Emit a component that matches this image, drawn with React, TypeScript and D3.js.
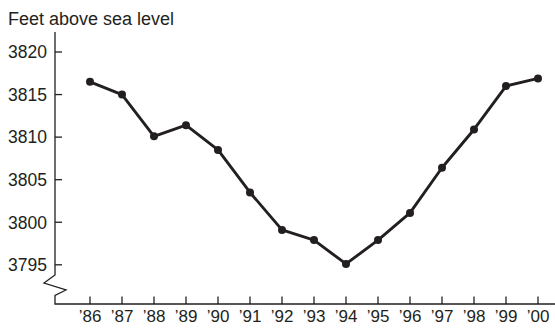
import React from "react";
import * as d3 from "d3";

const years = ["’86", "’87", "’88", "’89", "’90", "’91", "’92", "’93", "’94", "’95", "’96", "’97", "’98", "’99", "’00"];
const levels = [3816.5, 3815.0, 3810.1, 3811.4, 3808.5, 3803.5, 3799.1, 3797.9, 3795.1, 3797.9, 3801.1, 3806.4, 3810.9, 3816.0, 3816.9];
const yTicks = [3795, 3800, 3805, 3810, 3815, 3820];
const yTitle = "Feet above sea level";

const W = 555;
const H = 330;
const INK = "#231f20";
const FONT = "'Liberation Sans', Arial, Helvetica, sans-serif";

export default function App() {
  const axisX = 55;
  const axisY = 304;
  const x = d3.scaleLinear().domain([0, years.length - 1]).range([90, 538]);
  const y = d3.scaleLinear().domain([3795, 3820]).range([264.8, 52]);
  const line = d3
    .line<number>()
    .x((_, i) => x(i))
    .y((d) => y(d));

  const axisPath = `M${axisX},32 V275 L44,283 L66,290 L${axisX},295.5 V${axisY} H${W}`;

  return (
    <svg
      width={W}
      height={H}
      style={{ position: "absolute", left: 0, top: 0, background: "#fff" }}
      fontFamily={FONT}
    >
      <text x={8} y={25} fontSize={18} fill={INK}>
        {yTitle}
      </text>
      <path d={axisPath} fill="none" stroke={INK} strokeWidth={1.3} />
      {yTicks.map((t) => (
        <g key={t}>
          <line x1={axisX} x2={axisX + 7} y1={y(t)} y2={y(t)} stroke={INK} strokeWidth={1.3} />
          <text x={47} y={y(t)} dy="0.36em" textAnchor="end" fontSize={17.5} fill={INK}>
            {t}
          </text>
        </g>
      ))}
      {years.map((yr, i) => (
        <g key={yr}>
          <line x1={x(i)} x2={x(i)} y1={axisY} y2={axisY - 7.5} stroke={INK} strokeWidth={1.3} />
          <text x={x(i)} y={322} textAnchor="middle" fontSize={17} fill={INK}>
            {yr}
          </text>
        </g>
      ))}
      <path d={line(levels) || ""} fill="none" stroke={INK} strokeWidth={2.9} strokeLinejoin="round" />
      {levels.map((v, i) => (
        <circle key={i} cx={x(i)} cy={y(v)} r={4} fill={INK} />
      ))}
    </svg>
  );
}
